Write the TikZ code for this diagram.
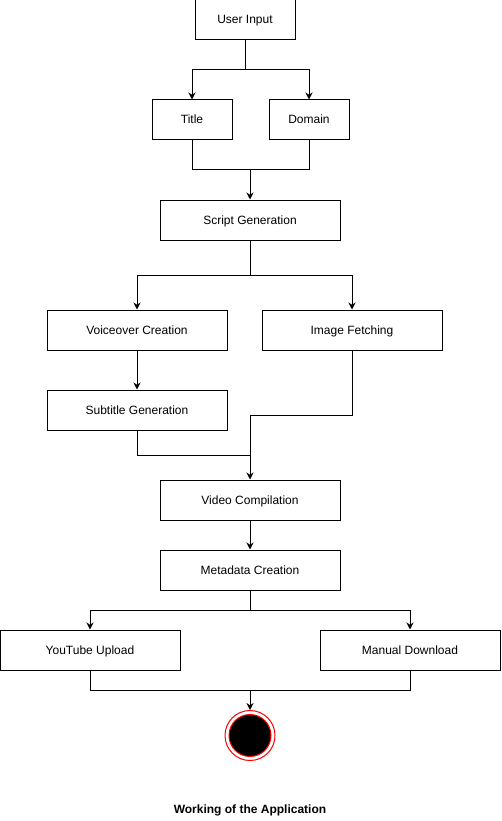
\documentclass[tikz,border=0pt]{standalone}
\usepackage{fontspec}
\setmainfont{Liberation Sans}
\usetikzlibrary{arrows.meta}
\begin{document}
\begin{tikzpicture}[x=1pt,y=-1pt,
  box/.style={draw=black, line width=1pt, fill=white, minimum height=40pt, inner sep=0pt, text height=8.6pt, text depth=0.6pt, font=\fontsize{12}{14}\selectfont},
  wide/.style={box, minimum width=180pt},
  narrow/.style={box, minimum width=80pt},
  conn/.style={draw=black, line width=1pt},
  arr/.style={conn, -{Stealth[length=7pt,width=7pt]}},
]
\useasboundingbox (0,0) rectangle (501,821);
\node[box, minimum width=100pt] (ui) at (245,20) {User Input};
\node[narrow] (title) at (192,120) {Title};
\node[narrow] (domain) at (309,120) {Domain};
\node[wide] (script) at (250,220) {Script Generation};
\node[wide] (voice) at (137,330) {Voiceover Creation};
\node[wide] (image) at (352,330) {Image Fetching};
\node[wide] (sub) at (137,410) {Subtitle Generation};
\node[wide] (video) at (250,500) {Video Compilation};
\node[wide] (meta) at (250,570) {Metadata Creation};
\node[wide] (yt) at (90,650) {YouTube Upload};
\node[wide] (manual) at (410,650) {Manual Download};
\node[circle, draw=red, line width=1pt, fill=white, minimum size=50pt, inner sep=0pt] (endo) at (250,735.5) {};
\node[circle, draw=red, line width=1pt, fill=black, minimum size=42pt, inner sep=0pt] (endi) at (250,735.5) {};
\node[font=\bfseries\fontsize{12}{14}\selectfont, text height=8.6pt, text depth=0.6pt, inner sep=0pt] (cap) at (250,809) {Working of the Application};

\coordinate (s1) at (245,70);
\coordinate (j1) at (250,170);
\coordinate (s2) at (250,275);
\coordinate (j2) at (250,455);
\coordinate (j3) at (250,415);
\coordinate (s3) at (250,610);
\coordinate (j4) at (250,690);

\draw[conn] (ui.south) -- (s1);
\draw[arr] (s1) -| (title.north);
\draw[arr] (s1) -| (domain.north);
\draw[conn] (title.south) |- (j1);
\draw[conn] (domain.south) |- (j1);
\draw[arr] (j1) -- (script.north);
\draw[conn] (script.south) -- (s2);
\draw[arr] (s2) -| (voice.north);
\draw[arr] (s2) -| (image.north);
\draw[arr] (voice.south) -- (sub.north);
\draw[conn] (sub.south) |- (j2);
\draw[conn] (image.south) |- (j3);
\draw[arr] (j3) -- (video.north);
\draw[arr] (video.south) -- (meta.north);
\draw[conn] (meta.south) -- (s3);
\draw[arr] (s3) -| (yt.north);
\draw[arr] (s3) -| (manual.north);
\draw[conn] (yt.south) |- (j4);
\draw[conn] (manual.south) |- (j4);
\draw[arr] (j4) -- (endo.north);
\end{tikzpicture}
\end{document}
